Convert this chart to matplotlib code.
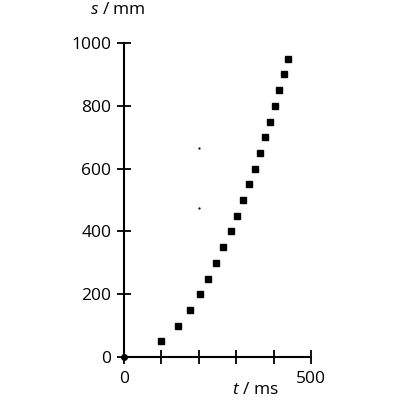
import matplotlib
matplotlib.use("Agg")
import matplotlib.pyplot as plt

t_ms = [100, 144, 176, 202, 225, 247, 266, 285, 303, 319, 334, 349, 364, 377, 390, 403, 415, 427, 438]
s_mm = [50, 100, 150, 200, 250, 300, 350, 400, 450, 500, 550, 600, 650, 700, 750, 800, 850, 900, 950]
stray_t = [200, 200]
stray_s = [666, 475]
x_ticks = [0, 100, 200, 300, 400, 500]
x_labels = ["0", "", "", "", "", "500"]
y_ticks = [0, 200, 400, 600, 800, 1000]

plt.rcParams['font.family'] = ['Open Sans', 'DejaVu Sans']
plt.rcParams['mathtext.fontset'] = 'custom'
plt.rcParams['mathtext.it'] = 'Open Sans:italic'
plt.rcParams['mathtext.rm'] = 'Open Sans'

fig = plt.figure(figsize=(4, 4), dpi=100)
ax = fig.add_axes([0.31, 0.1075, 0.4675, 0.785])
ax.set_xlim(0, 500)
ax.set_ylim(0, 1000)
for sp in ['top', 'right']:
    ax.spines[sp].set_visible(False)
for sp in ['left', 'bottom']:
    ax.spines[sp].set_linewidth(1.5)

ax.plot(t_ms, s_mm, 's', color='black', markersize=4.2, clip_on=False)
ax.plot(stray_t, stray_s, '.', color='black', markersize=1.2)
ax.plot([0], [0], 'o', color='black', markersize=4, clip_on=False, zorder=5)

ax.set_xticks(x_ticks)
ax.set_xticklabels(x_labels)
ax.set_yticks(y_ticks)
ax.tick_params(direction='inout', length=10, width=1.3, labelsize=12.5, colors='black')
ax.tick_params(axis='x', pad=5)
ax.tick_params(axis='y', pad=4)

fig.text(0.6375, 0.005, r"$t$ / ms", fontsize=12.5, ha='center', va='bottom')
fig.text(0.295, 0.995, r"$s$ / mm", fontsize=12.5, ha='center', va='top')

fig.savefig("out.png", dpi=100)
